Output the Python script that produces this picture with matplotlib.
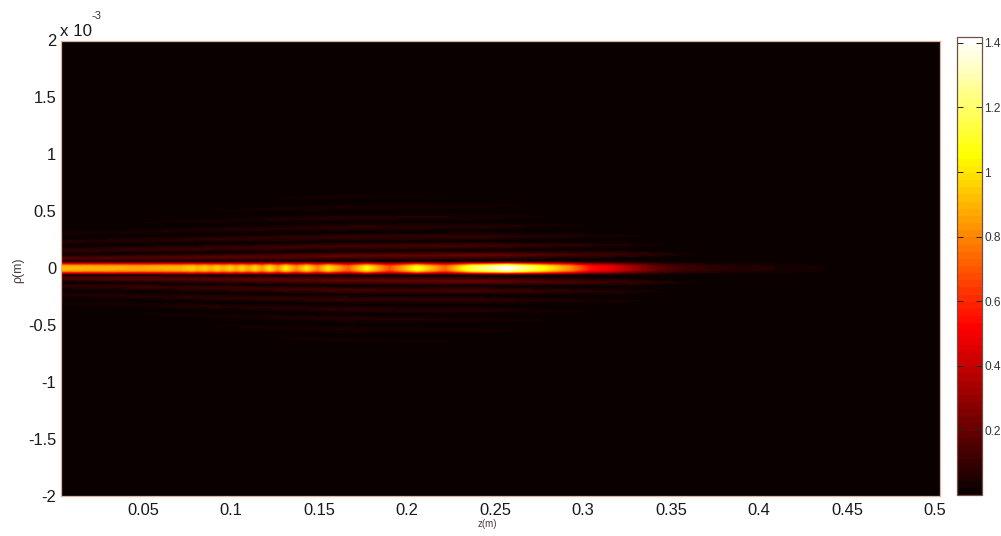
import numpy as np
import matplotlib
matplotlib.use("Agg")
import matplotlib.pyplot as plt
from matplotlib.colors import Normalize
from matplotlib.cm import ScalarMappable

plt.rcParams['font.family'] = ['Liberation Sans', 'DejaVu Sans']

# on-axis intensity along z (m)
axis_z = [0.003, 0.0256, 0.048, 0.071, 0.078, 0.081, 0.085, 0.0886, 0.092, 0.0955,
          0.0994, 0.103, 0.106, 0.110, 0.1136, 0.1176, 0.122, 0.1267, 0.131, 0.137,
          0.143, 0.149, 0.155, 0.1665, 0.177, 0.190, 0.2057, 0.2216, 0.236, 0.2568,
          0.2756, 0.2926, 0.304, 0.315, 0.332, 0.344, 0.355, 0.378, 0.4006, 0.4233,
          0.44, 0.452, 0.5025]
axis_I = [0.92, 0.90, 0.88, 0.90, 0.95, 0.89, 0.95, 0.88, 0.95, 0.88,
          0.96, 0.87, 0.96, 0.86, 0.97, 0.84, 1.00, 0.82, 1.02, 0.80,
          1.00, 0.78, 1.00, 0.72, 1.05, 0.68, 1.08, 0.74, 1.15, 1.40,
          1.10, 0.82, 0.55, 0.48, 0.28, 0.17, 0.12, 0.07, 0.05, 0.035,
          0.02, 0.005, 0.0]

# relative transverse profile of the central lobe (rho in 1e-3 m)
core_rho = [-0.062, -0.050, -0.036, -0.022, -0.010, 0.0, 0.010, 0.022, 0.036, 0.050, 0.062]
core_rel = [0.0, 0.15, 0.55, 0.88, 0.99, 1.0, 0.99, 0.88, 0.55, 0.15, 0.0]

# side rings: z nodes, ring radius (1e-3 m) and peak intensity at each node
ring_z = [0.003, 0.0824, 0.162, 0.2415, 0.321, 0.3665, 0.5025]
ring_rho = [
    [0.088, 0.097, 0.108, 0.114, 0.123, 0.123, 0.123],
    [0.154, 0.172, 0.193, 0.198, 0.206, 0.206, 0.206],
    [0.233, 0.255, 0.272, 0.278, 0.285, 0.285, 0.285],
    [0.307, 0.334, 0.360, 0.369, 0.378, 0.378, 0.378],
    [0.386, 0.413, 0.443, 0.452, 0.461, 0.461, 0.461],
    [0.465, 0.500, 0.536, 0.545, 0.553, 0.553, 0.553],
    [0.545, 0.580, 0.632, 0.641, 0.650, 0.650, 0.650],
    [0.624, 0.668, 0.729, 0.738, 0.747, 0.747, 0.747],
    [0.703, 0.747, 0.808, 0.817, 0.826, 0.826, 0.826],
]
ring_amp = [
    [0.14, 0.16, 0.18, 0.20, 0.10, 0.02, 0.0],
    [0.08, 0.10, 0.12, 0.12, 0.05, 0.0, 0.0],
    [0.05, 0.07, 0.09, 0.08, 0.03, 0.0, 0.0],
    [0.03, 0.05, 0.07, 0.06, 0.01, 0.0, 0.0],
    [0.01, 0.03, 0.06, 0.04, 0.0, 0.0, 0.0],
    [0.0, 0.02, 0.045, 0.03, 0.0, 0.0, 0.0],
    [0.0, 0.012, 0.03, 0.02, 0.0, 0.0, 0.0],
    [0.0, 0.006, 0.022, 0.018, 0.0, 0.0, 0.0],
    [0.0, 0.0, 0.012, 0.012, 0.0, 0.0, 0.0],
]

x_ticks = [0.05, 0.1, 0.15, 0.2, 0.25, 0.3, 0.35, 0.4, 0.45, 0.5]
x_labels = ['0.05', '0.1', '0.15', '0.2', '0.25', '0.3', '0.35', '0.4', '0.45', '0.5']
y_ticks = [-2, -1.5, -1, -0.5, 0, 0.5, 1, 1.5, 2]
y_labels = ['-2', '-1.5', '-1', '-0.5', '0', '0.5', '1', '1.5', '2']
cbar_ticks = [0.2, 0.4, 0.6, 0.8, 1, 1.2, 1.4]
cbar_labels = ['0.2', '0.4', '0.6', '0.8', '1', '1.2', '1.4']
I_max = 1.418

W, H = 1001, 536
fig = plt.figure(figsize=(W / 100, H / 100), dpi=100, facecolor='white')
ax = fig.add_axes([60.5 / W, (H - 496) / H, 879 / W, 455.5 / H])

cmap = plt.get_cmap('hot', 64)
norm = Normalize(0, I_max)
levels = np.linspace(0, I_max, 65)
ax.set_facecolor(cmap(0))

# side rings (mirrored about the axis)
rz = np.array(ring_z)
rr = np.array(ring_rho)
ra = np.array(ring_amp)
half = 0.042
rows, vals = [rr[0] - half], [np.zeros_like(rz)]
for k in range(len(rr)):
    rows.append(rr[k])
    vals.append(ra[k])
    rows.append((rr[k] + rr[k + 1]) / 2 if k + 1 < len(rr) else rr[k] + half)
    vals.append(np.zeros_like(rz))
rows = np.array(rows)
vals = np.array(vals)
Z = np.tile(rz, (len(rows), 1))
for sign in (1, -1):
    ax.contourf(Z, sign * rows, vals, levels=levels, cmap=cmap, norm=norm, zorder=1)

# central lobe
C = np.outer(core_rel, axis_I)
ax.contourf(axis_z, core_rho, C, levels=levels, cmap=cmap, norm=norm, zorder=2)

ax.set_xlim(0.0031, 0.5025)
ax.set_ylim(-2, 2)
ax.set_xticks(x_ticks, x_labels)
ax.set_yticks(y_ticks, y_labels)
ax.tick_params(axis='both', direction='in', length=4, width=0.6, color='black',
               labelsize=11.9, labelcolor='#1a1a1a')
ax.tick_params(axis='x', pad=5)
ax.tick_params(axis='y', pad=3)
for s in ax.spines.values():
    s.set_color('#d9b5a0')
    s.set_linewidth(0.9)

fig.text(487 / W, 1 - 524 / H, 'z(m)', fontsize=7, color='#4a3a3a', ha='center', va='center')
fig.text(18 / W, 1 - 270 / H, 'ρ(m)', fontsize=9, color='#4a3a3a', ha='center', va='center',
         rotation=90)
fig.text(60 / W, 1 - 31 / H, 'x 10', fontsize=12.2, color='#1a1a1a', ha='left', va='center')
fig.text(92 / W, 1 - 16 / H, '-3', fontsize=8, color='#333333', ha='left', va='center')

# colour bar
cax = fig.add_axes([957 / W, (H - 495) / H, 25 / W, 458 / H])
cb = fig.colorbar(ScalarMappable(norm=norm, cmap=cmap), cax=cax)
cb.set_ticks(cbar_ticks, labels=cbar_labels)
cb.ax.tick_params(axis='y', direction='in', length=4, width=0.7, color='#222222',
                  right=True, left=True, labelsize=8.6, labelcolor='#333333', pad=1.5)
cb.outline.set_edgecolor('#6e5046')
cb.outline.set_linewidth(0.9)

fig.savefig('out.png', dpi=100, facecolor='white')
